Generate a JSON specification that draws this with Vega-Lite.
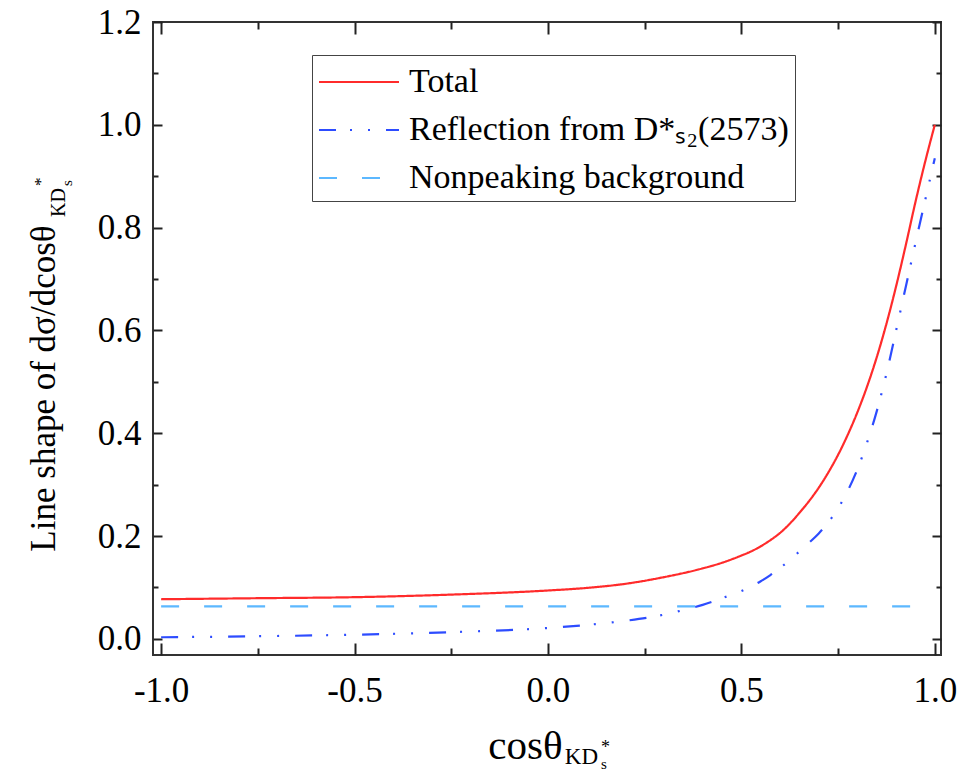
{
  "$schema": "https://vega.github.io/schema/vega-lite/v6.json",
  "width": 788,
  "height": 633,
  "autosize": {"type": "none"},
  "padding": {"left": 153, "top": 22, "right": 28, "bottom": 116},
  "background": "white",
  "datasets": {
    "curves": [
      {"x": -1, "y": 0.077, "series": "Total"},
      {"x": -0.75, "y": 0.079, "series": "Total"},
      {"x": -0.5, "y": 0.081, "series": "Total"},
      {"x": -0.25, "y": 0.086, "series": "Total"},
      {"x": 0, "y": 0.094, "series": "Total"},
      {"x": 0.1, "y": 0.099, "series": "Total"},
      {"x": 0.2, "y": 0.107, "series": "Total"},
      {"x": 0.3, "y": 0.12, "series": "Total"},
      {"x": 0.4, "y": 0.137, "series": "Total"},
      {"x": 0.45, "y": 0.148, "series": "Total"},
      {"x": 0.5, "y": 0.162, "series": "Total"},
      {"x": 0.525, "y": 0.17, "series": "Total"},
      {"x": 0.55, "y": 0.18, "series": "Total"},
      {"x": 0.575, "y": 0.192, "series": "Total"},
      {"x": 0.6, "y": 0.206, "series": "Total"},
      {"x": 0.625, "y": 0.224, "series": "Total"},
      {"x": 0.65, "y": 0.245, "series": "Total"},
      {"x": 0.675, "y": 0.268, "series": "Total"},
      {"x": 0.7, "y": 0.294, "series": "Total"},
      {"x": 0.725, "y": 0.324, "series": "Total"},
      {"x": 0.75, "y": 0.358, "series": "Total"},
      {"x": 0.775, "y": 0.397, "series": "Total"},
      {"x": 0.8, "y": 0.441, "series": "Total"},
      {"x": 0.825, "y": 0.491, "series": "Total"},
      {"x": 0.85, "y": 0.548, "series": "Total"},
      {"x": 0.875, "y": 0.613, "series": "Total"},
      {"x": 0.9, "y": 0.686, "series": "Total"},
      {"x": 0.925, "y": 0.766, "series": "Total"},
      {"x": 0.95, "y": 0.85, "series": "Total"},
      {"x": 0.975, "y": 0.928, "series": "Total"},
      {"x": 1, "y": 1.0, "series": "Total"},
      {"x": -1, "y": 0.003, "series": "Reflection from D*ₛ₂(2573)"},
      {"x": -0.75, "y": 0.005, "series": "Reflection from D*ₛ₂(2573)"},
      {"x": -0.5, "y": 0.008, "series": "Reflection from D*ₛ₂(2573)"},
      {"x": -0.25, "y": 0.013, "series": "Reflection from D*ₛ₂(2573)"},
      {"x": 0, "y": 0.021, "series": "Reflection from D*ₛ₂(2573)"},
      {"x": 0.1, "y": 0.027, "series": "Reflection from D*ₛ₂(2573)"},
      {"x": 0.2, "y": 0.035, "series": "Reflection from D*ₛ₂(2573)"},
      {"x": 0.3, "y": 0.047, "series": "Reflection from D*ₛ₂(2573)"},
      {"x": 0.35, "y": 0.056, "series": "Reflection from D*ₛ₂(2573)"},
      {"x": 0.4, "y": 0.066, "series": "Reflection from D*ₛ₂(2573)"},
      {"x": 0.45, "y": 0.079, "series": "Reflection from D*ₛ₂(2573)"},
      {"x": 0.5, "y": 0.093, "series": "Reflection from D*ₛ₂(2573)"},
      {"x": 0.55, "y": 0.112, "series": "Reflection from D*ₛ₂(2573)"},
      {"x": 0.575, "y": 0.124, "series": "Reflection from D*ₛ₂(2573)"},
      {"x": 0.6, "y": 0.138, "series": "Reflection from D*ₛ₂(2573)"},
      {"x": 0.625, "y": 0.153, "series": "Reflection from D*ₛ₂(2573)"},
      {"x": 0.65, "y": 0.17, "series": "Reflection from D*ₛ₂(2573)"},
      {"x": 0.675, "y": 0.187, "series": "Reflection from D*ₛ₂(2573)"},
      {"x": 0.7, "y": 0.205, "series": "Reflection from D*ₛ₂(2573)"},
      {"x": 0.725, "y": 0.227, "series": "Reflection from D*ₛ₂(2573)"},
      {"x": 0.75, "y": 0.254, "series": "Reflection from D*ₛ₂(2573)"},
      {"x": 0.775, "y": 0.288, "series": "Reflection from D*ₛ₂(2573)"},
      {"x": 0.8, "y": 0.33, "series": "Reflection from D*ₛ₂(2573)"},
      {"x": 0.825, "y": 0.382, "series": "Reflection from D*ₛ₂(2573)"},
      {"x": 0.85, "y": 0.443, "series": "Reflection from D*ₛ₂(2573)"},
      {"x": 0.875, "y": 0.516, "series": "Reflection from D*ₛ₂(2573)"},
      {"x": 0.9, "y": 0.6, "series": "Reflection from D*ₛ₂(2573)"},
      {"x": 0.925, "y": 0.685, "series": "Reflection from D*ₛ₂(2573)"},
      {"x": 0.95, "y": 0.77, "series": "Reflection from D*ₛ₂(2573)"},
      {"x": 0.975, "y": 0.853, "series": "Reflection from D*ₛ₂(2573)"},
      {"x": 1, "y": 0.935, "series": "Reflection from D*ₛ₂(2573)"},
      {"x": -1, "y": 0.063, "series": "Nonpeaking background"},
      {"x": 1, "y": 0.063, "series": "Nonpeaking background"}
    ]
  },
  "resolve": {"axis": {"x": "independent", "y": "independent"}},
  "layer": [
    {
      "data": {"name": "curves"},
      "transform": [{"filter": "datum.series !== 'Nonpeaking background'"}],
      "mark": {"type": "line", "strokeWidth": 2.2, "interpolate": "monotone", "clip": true},
      "encoding": {
        "x": {"field": "x", "type": "quantitative",
              "scale": {"domain": [-1.021, 1.016], "nice": false, "zero": false},
              "axis": {"orient": "bottom", "values": [-1, -0.5, 0, 0.5, 1], "tickSize": -12, "labelPadding": 30,
                       "labelExpr": "datum.value < 0 ? '-' + format(-datum.value, '.1f') : format(datum.value, '.1f')",
                       "title": "cosθ", "titleFontSize": 41, "titleX": 372, "titleY": 103, "titleAlign": "center", "titleBaseline": "alphabetic"}},
        "y": {"field": "y", "type": "quantitative",
              "scale": {"domain": [-0.0315, 1.2], "nice": false, "zero": false},
              "axis": {"orient": "left", "values": [0, 0.2, 0.4, 0.6, 0.8, 1.0, 1.2], "tickSize": -9, "labelPadding": 21,
                       "labelExpr": "format(datum.value, '.1f')",
                       "title": "Line shape of dσ/dcosθ", "titleFontSize": 35, "titleAngle": 270, "titleX": -99, "titleY": 366, "titleAlign": "center", "titleBaseline": "alphabetic"}},
        "color": {"field": "series", "type": "nominal",
                  "scale": {"domain": ["Total", "Reflection from D*ₛ₂(2573)", "Nonpeaking background"], "range": ["#ff2b2b", "#2d4cff", "#5cb8ff"]},
                  "legend": {"orient": "none", "legendX": 159, "legendY": 33, "direction": "vertical", "title": null,
                             "symbolType": "M-1,0H3", "symbolSize": 1600, "symbolStrokeWidth": 2, "labelFont": "Liberation Serif", "labelFontSize": 34,
                             "labelColor": "black", "labelOffset": 49, "labelLimit": 600, "padding": 6, "rowPadding": 10, "strokeColor": "#444", "fillColor": "white"}},
        "strokeDash": {"field": "series", "type": "nominal",
                       "scale": {"domain": ["Total", "Reflection from D*ₛ₂(2573)", "Nonpeaking background"], "range": [[1, 0], [17, 14, 2, 16, 2, 16], [18, 25]]},
                       "legend": {"orient": "none", "legendX": 159, "legendY": 33, "direction": "vertical", "title": null,
                             "symbolType": "M-1,0H3", "symbolSize": 1600, "symbolStrokeWidth": 2, "labelFont": "Liberation Serif", "labelFontSize": 34,
                             "labelColor": "black", "labelOffset": 49, "labelLimit": 600, "padding": 6, "rowPadding": 10, "strokeColor": "#444", "fillColor": "white"}}
      }
    },
    {
      "data": {"name": "curves"},
      "transform": [{"filter": "datum.series === 'Nonpeaking background'"}],
      "mark": {"type": "line", "strokeWidth": 2.2, "clip": true},
      "encoding": {
        "x": {"field": "x", "type": "quantitative",
              "scale": {"domain": [-1.021, 1.016], "nice": false, "zero": false},
              "axis": {"orient": "top", "values": [-1, -0.5, 0, 0.5, 1], "tickSize": -12, "labels": false, "title": null}},
        "y": {"field": "y", "type": "quantitative",
              "scale": {"domain": [-0.0315, 1.2], "nice": false, "zero": false},
              "axis": {"orient": "right", "values": [0, 0.2, 0.4, 0.6, 0.8, 1.0, 1.2], "tickSize": -9, "labels": false, "title": null}},
        "color": {"field": "series", "type": "nominal",
                  "scale": {"domain": ["Total", "Reflection from D*ₛ₂(2573)", "Nonpeaking background"], "range": ["#ff2b2b", "#2d4cff", "#5cb8ff"]},
                  "legend": {"orient": "none", "legendX": 159, "legendY": 33, "direction": "vertical", "title": null,
                             "symbolType": "M-1,0H3", "symbolSize": 1600, "symbolStrokeWidth": 2, "labelFont": "Liberation Serif", "labelFontSize": 34,
                             "labelColor": "black", "labelOffset": 49, "labelLimit": 600, "padding": 6, "rowPadding": 10, "strokeColor": "#444", "fillColor": "white"}},
        "strokeDash": {"field": "series", "type": "nominal",
                       "scale": {"domain": ["Total", "Reflection from D*ₛ₂(2573)", "Nonpeaking background"], "range": [[1, 0], [17, 14, 2, 16, 2, 16], [18, 25]]},
                       "legend": {"orient": "none", "legendX": 159, "legendY": 33, "direction": "vertical", "title": null,
                             "symbolType": "M-1,0H3", "symbolSize": 1600, "symbolStrokeWidth": 2, "labelFont": "Liberation Serif", "labelFontSize": 34,
                             "labelColor": "black", "labelOffset": 49, "labelLimit": 600, "padding": 6, "rowPadding": 10, "strokeColor": "#444", "fillColor": "white"}}
      }
    },
    {
      "data": {"values": [{"t": "KD"}]},
      "mark": {"type": "text", "font": "Liberation Serif", "fontSize": 23, "align": "left", "baseline": "alphabetic", "color": "black"},
      "encoding": {
        "text": {"field": "t"},
        "x": {"datum": 0.0436, "type": "quantitative", "scale": {"domain": [-1.021, 1.016], "nice": false, "zero": false},
              "axis": {"orient": "bottom", "values": [-0.75, -0.25, 0.25, 0.75], "tickSize": -7, "labels": false, "title": null}},
        "y": {"datum": -0.2436, "type": "quantitative", "scale": {"domain": [-0.0315, 1.2], "nice": false, "zero": false},
              "axis": {"orient": "left", "values": [0.1, 0.3, 0.5, 0.7, 0.9, 1.1], "tickSize": -5, "labels": false, "title": null}}
      }
    },
    {
      "data": {"values": [{"t": "*"}]},
      "mark": {"type": "text", "font": "Liberation Serif", "fontSize": 18, "align": "left", "baseline": "alphabetic", "color": "black"},
      "encoding": {
        "text": {"field": "t"},
        "x": {"datum": 0.137, "type": "quantitative", "scale": {"domain": [-1.021, 1.016], "nice": false, "zero": false},
              "axis": {"orient": "top", "values": [-0.75, -0.25, 0.25, 0.75], "tickSize": -7, "labels": false, "title": null}},
        "y": {"datum": -0.222, "type": "quantitative", "scale": {"domain": [-0.0315, 1.2], "nice": false, "zero": false},
              "axis": {"orient": "right", "values": [0.1, 0.3, 0.5, 0.7, 0.9, 1.1], "tickSize": -5, "labels": false, "title": null}}
      }
    },
    {
      "data": {"values": [{"t": "s"}]},
      "mark": {"type": "text", "font": "Liberation Serif", "fontSize": 15, "align": "left", "baseline": "alphabetic", "color": "black"},
      "encoding": {
        "text": {"field": "t"},
        "x": {"datum": 0.137, "type": "quantitative", "scale": {"domain": [-1.021, 1.016], "nice": false, "zero": false}, "axis": null},
        "y": {"datum": -0.2534, "type": "quantitative", "scale": {"domain": [-0.0315, 1.2], "nice": false, "zero": false}, "axis": null}
      }
    },
    {
      "data": {"values": [{"t": "KD"}]},
      "mark": {"type": "text", "font": "Liberation Serif", "fontSize": 20, "align": "left", "baseline": "alphabetic", "angle": 270, "color": "black"},
      "encoding": {
        "text": {"field": "t"},
        "x": {"datum": -1.248, "type": "quantitative", "scale": {"domain": [-1.021, 1.016], "nice": false, "zero": false}, "axis": null},
        "y": {"datum": 0.8206, "type": "quantitative", "scale": {"domain": [-0.0315, 1.2], "nice": false, "zero": false}, "axis": null}
      }
    },
    {
      "data": {"values": [{"t": "*"}]},
      "mark": {"type": "text", "font": "Liberation Serif", "fontSize": 17, "align": "left", "baseline": "alphabetic", "angle": 270, "color": "black"},
      "encoding": {
        "text": {"field": "t"},
        "x": {"datum": -1.2975, "type": "quantitative", "scale": {"domain": [-1.021, 1.016], "nice": false, "zero": false}, "axis": null},
        "y": {"datum": 0.881, "type": "quantitative", "scale": {"domain": [-0.0315, 1.2], "nice": false, "zero": false}, "axis": null}
      }
    },
    {
      "data": {"values": [{"t": "s"}]},
      "mark": {"type": "text", "font": "Liberation Serif", "fontSize": 15, "align": "left", "baseline": "alphabetic", "angle": 270, "color": "black"},
      "encoding": {
        "text": {"field": "t"},
        "x": {"datum": -1.2303, "type": "quantitative", "scale": {"domain": [-1.021, 1.016], "nice": false, "zero": false}, "axis": null},
        "y": {"datum": 0.881, "type": "quantitative", "scale": {"domain": [-0.0315, 1.2], "nice": false, "zero": false}, "axis": null}
      }
    }
  ],
  "config": {
    "view": {"stroke": "#333", "strokeWidth": 2},
    "axis": {"domain": false, "grid": false, "tickColor": "#222", "tickWidth": 2,
             "labelFont": "Liberation Serif", "labelFontSize": 35, "labelColor": "black",
             "titleFont": "Liberation Serif", "titleColor": "black", "titleFontWeight": "normal",
             "labelFlush": false, "labelBound": false, "labelOverlap": false}
  }
}
